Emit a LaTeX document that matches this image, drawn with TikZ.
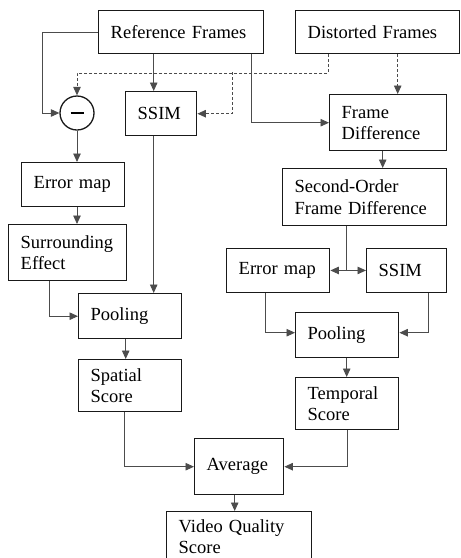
\documentclass[tikz,border=0pt]{standalone}
\usepackage{fontspec}
\setmainfont{Liberation Serif}
\usetikzlibrary{arrows.meta,calc}
\begin{document}
\begin{tikzpicture}[x=1pt,y=-1pt,
  box/.style={draw=black!90,line width=1.4pt,anchor=north west,inner xsep=12pt,inner ysep=0pt,
    align=left,font=\fontsize{18.5}{21.3}\selectfont},
  conn/.style={draw=black!70,line width=0.9pt},
  arr/.style={conn,-{Triangle[length=8.5pt,width=7.5pt]}},
  darr/.style={arr,dash pattern=on 3pt off 2pt}]
\useasboundingbox (0,0) rectangle (461,558);
\clip (0,0) rectangle (461,558);
\node[box,minimum width=165,minimum height=43,text width=141] (ref) at (98,10) {Reference Frames};
\node[box,minimum width=164,minimum height=43,text width=140] (dist) at (295,10) {Distorted Frames};
\node[box,minimum width=71,minimum height=44,text width=47] (ssima) at (125,91) {SSIM};
\node[box,minimum width=117,minimum height=56,text width=93] (fd) at (329,94) {Frame\\Difference};
\node[box,minimum width=103,minimum height=44,text width=79] (erra) at (21,162) {Error map};
\node[box,minimum width=118,minimum height=56,text width=94] (sur) at (8,224) {Surrounding\\Effect};
\node[box,minimum width=164,minimum height=57,text width=140] (so) at (282,168) {Second-Order\\Frame Difference};
\node[box,minimum width=103,minimum height=44.5,text width=79] (errb) at (226,247.5) {Error map};
\node[box,minimum width=80,minimum height=44.5,text width=56] (ssimb) at (366,247.5) {SSIM};
\node[box,minimum width=103,minimum height=45,text width=79] (poola) at (78,293) {Pooling};
\node[box,minimum width=103,minimum height=52,text width=79] (spat) at (78,359) {Spatial\\Score};
\node[box,minimum width=103,minimum height=45,text width=79] (poolb) at (295,312) {Pooling};
\node[box,minimum width=103,minimum height=52,text width=79] (temp) at (295,377) {Temporal\\Score};
\node[box,minimum width=89,minimum height=56,text width=65] (avg) at (194,438) {Average};
\node[box,minimum width=145,minimum height=50,text width=121] (vqs) at (166,511) {Video Quality\\Score};
% subtraction circle
\node[circle,draw=black!90,line width=1.3pt,minimum size=34pt,inner sep=0pt] (minus) at (77,113) {};
\draw[line width=2.2pt] ([xshift=-6.5pt]minus.center) -- ([xshift=6.5pt]minus.center);
% connectors
\draw[arr] (ref.west) -| ([xshift=-17pt]minus.west) -- (minus.west);
\draw[arr] ([xshift=-7.5pt]ssima.north |- ref.south) -- ([xshift=-7.5pt]ssima.north);
\draw[arr] ([xshift=-13pt]ref.south east) |- (fd.west);
\draw[darr] ([xshift=33pt]dist.south west) -- ++(0,19) coordinate (dj) -| (minus.north);
\coordinate (dk) at (232,72);
\draw[darr] (dk) |- (ssima.east);
\draw[darr] ([xshift=9.5pt]fd.north |- dist.south) -- ([xshift=9.5pt]fd.north);
\draw[arr] (minus.south) -- (minus.south |- erra.north);
\draw[arr] (minus.south |- erra.south) -- (minus.south |- sur.north);
\draw[arr] ([xshift=-18pt]sur.south) |- (poola.west);
\draw[arr] ([xshift=-7.5pt]ssima.south) -- ([xshift=-7.5pt]ssima.south |- poola.north);
\draw[arr] ([xshift=-4.5pt]poola.south) -- ([xshift=-4.5pt]poola.south |- spat.north);
\draw[arr] ([xshift=-5.5pt]spat.south) |- (avg.west);
\draw[arr] (temp.south) |- (avg.east);
\draw[arr] ([xshift=-4.5pt]avg.south) -- ([xshift=-4.5pt]avg.south |- vqs.north);
\draw[arr] ([xshift=-5.5pt]fd.south) -- ([xshift=-5.5pt]fd.south |- so.north);
\coordinate (sp) at ([xshift=-18pt]so.south);
\draw[arr] (sp) |- (errb.east);
\draw[arr] (sp) |- (ssimb.west);
\draw[arr] ([xshift=-12.5pt]errb.south) |- ([yshift=2.5pt]poolb.west);
\draw[arr] ([xshift=22pt]ssimb.south) |- ([yshift=2.5pt]poolb.east);
\draw[arr] ([xshift=-0.5pt]poolb.south) -- ([xshift=-0.5pt]poolb.south |- temp.north);
\end{tikzpicture}
\end{document}
